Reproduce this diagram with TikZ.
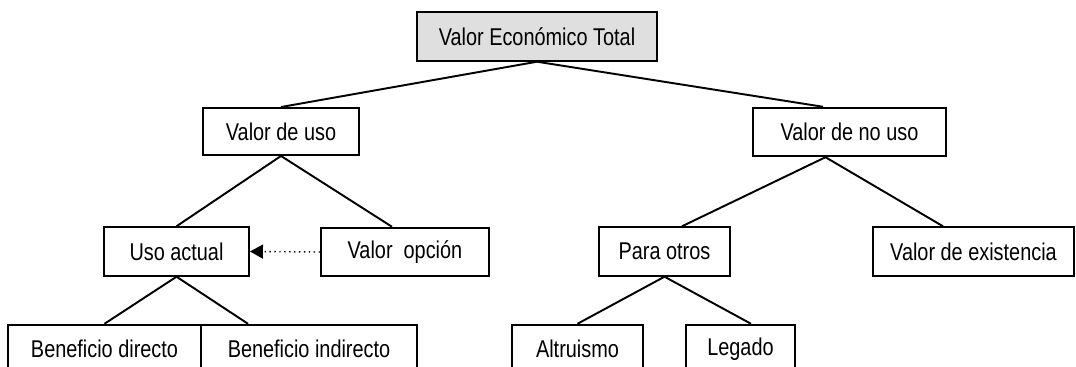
\documentclass[tikz,border=0pt]{standalone}
\usepackage{fontspec}
\setmainfont{Liberation Sans}[FakeStretch=0.82]
\usepackage{xcolor}
\usepackage{tikz}
\usetikzlibrary{arrows.meta}
\newcommand{\optarrow}{-{Triangle[length=0.26cm,width=0.28cm]}}
\tikzset{
	caja/.style={draw,line width=1.1pt,inner sep=0pt,minimum height=0.97cm,
		font=\fontsize{13.8}{16}\selectfont},
	rama/.style={line width=1.1pt}
}

\begin{document}
\begin{tikzpicture}
			\useasboundingbox (0,0) rectangle (21.52,-7.34);
			\node[caja,fill=gray!25,minimum width=4.8cm] (vet) at (10.74,-0.73) {Valor Económico Total};
			\node[caja,minimum width=3.12cm,minimum height=0.94cm] (uso) at (5.62,-2.63) {Valor de uso};
			\node[caja,minimum width=3.86cm] (nouso) at (16.99,-2.64) {Valor de no uso};
			\node[caja,minimum width=2.9cm] (actual) at (3.53,-5.03) {Uso actual};
			\node[caja,minimum width=3.36cm] (opcion) at (8.10,-5.04) {Valor\ \ opción};
			\node[caja,minimum width=2.62cm] (otros) at (13.29,-5.03) {Para otros};
			\node[caja,minimum width=4.02cm] (exist) at (19.47,-5.03) {Valor de existencia};
			\node[caja,minimum width=3.86cm] (bdir) at (2.09,-6.98) {Beneficio directo};
			\node[caja,minimum width=4.32cm] (bind) at (6.18,-6.98) {Beneficio indirecto};
			\node[caja,minimum width=2.62cm] (altr) at (11.55,-6.98) {Altruismo};
			\node[caja,minimum width=2.18cm] (legado) at (14.81,-6.98) {Legado};
			\draw[rama] (vet.south) -- (uso.north);
			\draw[rama] (vet.south) -- ([xshift=-0.53cm]nouso.north);
			\draw[rama] (uso.south) -- (actual.north);
			\draw[rama] (uso.south) -- ([xshift=-0.26cm]opcion.north);
			\draw[rama] ([xshift=-0.48cm]nouso.south) -- ([xshift=0.35cm]otros.north);
			\draw[rama] ([xshift=-0.48cm]nouso.south) -- ([xshift=-0.61cm]exist.north);
			\draw[rama] (actual.south) -- (bdir.north);
			\draw[rama] (actual.south) -- ([xshift=-1.22cm]bind.north);
			\draw[rama] (otros.south) -- (altr.north);
			\draw[rama] (otros.south) -- ([xshift=0.21cm]legado.north);
			\draw[line width=0.8pt,dotted,\optarrow] (opcion.west) -- (actual.east);
			\end{tikzpicture}
\end{document}
